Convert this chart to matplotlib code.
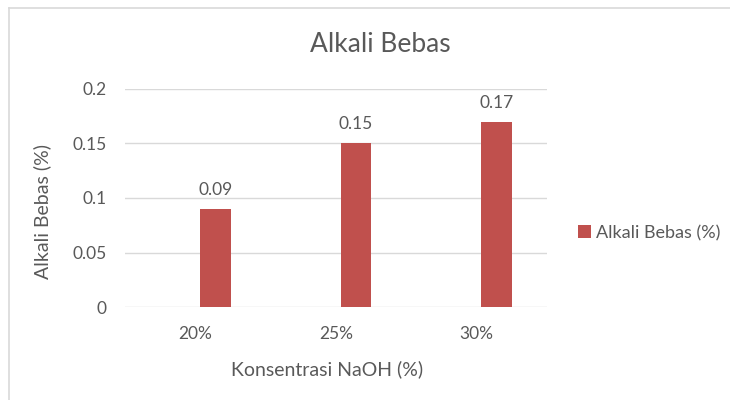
import matplotlib
matplotlib.use("Agg")
import matplotlib.pyplot as plt
from matplotlib.lines import Line2D
import numpy as np

# data
categories = ["20%", "25%", "30%"]
values = [0.09, 0.15, 0.17]
series_name = "Alkali Bebas (%)"
yticks = [0, 0.05, 0.1, 0.15, 0.2]
ytick_labels = ["0", "0.05", "0.1", "0.15", "0.2"]

plt.rcParams['font.family'] = ['Lato', 'DejaVu Sans']
txt = '#595959'
bar_color = '#C0504D'
grid_color = '#D9D9D9'

fig = plt.figure(figsize=(7.3, 4), dpi=100)
ax = fig.add_axes([125/730, 1-307/400, 422/730, 218/400])

x = np.arange(len(categories))
bars = ax.bar(x + 0.142, values, width=0.22, color=bar_color, label=series_name, zorder=3)
for b, v in zip(bars, values):
	ax.annotate(f"{v:g}", (b.get_x() + b.get_width()/2, v), xytext=(0, 8),
		textcoords='offset points', ha='center', va='bottom', fontsize=12.5, color=txt)

ax.set_xlim(-0.5, 2.5)
ax.set_ylim(0, 0.2)
ax.set_yticks(yticks)
ax.set_yticklabels(ytick_labels)
ax.set_xticks(x)
ax.set_xticklabels(categories)
ax.yaxis.grid(True, color=grid_color, linewidth=1, zorder=0)
ax.tick_params(length=0, colors=txt, labelsize=12.5)
ax.tick_params(axis='y', pad=13)
ax.tick_params(axis='x', pad=14)
for s in ax.spines.values():
	s.set_visible(False)

ax.set_ylabel("Alkali Bebas (%)", fontsize=14, color=txt)
ax.set_xlabel("Konsentrasi NaOH (%)", fontsize=14, color=txt)
ax.yaxis.set_label_coords(-0.175, 0.44)
ax.xaxis.set_label_coords(0.479, -0.243)
fig.text(380/730, 1-45/400, "Alkali Bebas", ha='center', va='center', fontsize=19, color=txt)

ax.legend(loc='center left', bbox_to_anchor=(578/730, 1-233/400), bbox_transform=fig.transFigure,
	frameon=False, fontsize=13, labelcolor=txt, handlelength=0.7, handleheight=0.7,
	handletextpad=0.3, borderpad=0, borderaxespad=0)

# chart border (left and top visible)
fig.add_artist(Line2D([9/730, 9/730], [0, 1-8/400], transform=fig.transFigure, color=grid_color, lw=1.2))
fig.add_artist(Line2D([9/730, 1], [1-8/400, 1-8/400], transform=fig.transFigure, color=grid_color, lw=1.2))

fig.savefig("out.png", dpi=100, facecolor='white')
